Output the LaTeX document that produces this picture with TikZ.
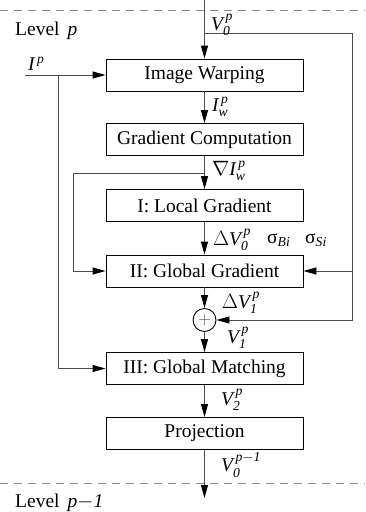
\documentclass[tikz,border=0pt]{standalone}
\usepackage{amsmath}
\usepackage{fontspec}
\setmainfont{Liberation Serif}
\usetikzlibrary{arrows.meta}
\newcommand{\ti}[1]{\textit{#1}}
\begin{document}
\begin{tikzpicture}[x=1pt,y=-1pt,
  txt/.style={font=\fontsize{19.5}{22}\selectfont},
  box/.style={txt,draw=black,line width=0.9pt,minimum width=197pt,minimum height=32pt,inner sep=0pt},
  lbl/.style={txt,anchor=west,inner sep=0pt},
  conn/.style={draw=black!70,line width=0.9pt},
  arr/.style={conn,-{Triangle[length=13pt,width=7pt,color=black]}},
  lev/.style={draw=black!45,line width=1pt,dash pattern=on 8pt off 6pt}]
\useasboundingbox (0,0) rectangle (365,512);
% level lines
\coordinate (dl1) at (0,10); \coordinate (dr1) at (365,10);
\coordinate (dl2) at (0,483); \coordinate (dr2) at (365,483);
\draw[lev] (dl1) -- (dr1);
\draw[lev] (dl2) -- (dr2);
\node[lbl] (lvp) at (15,31) {Level\, \ti{p}};
\node[lbl] (lvq) at (15,503) {Level\, \ti{p}$-$\ti{1}};
% boxes
\node[box] (iw) at (204.5,75) {Image Warping};
\node[box] (gc) at (204.5,139.5) {Gradient Computation};
\node[box] (lg) at (204.5,205.5) {I: Local Gradient};
\node[box] (gg) at (204.5,271) {II: Global Gradient};
\node[draw=black,line width=0.9pt,circle,minimum size=23pt,inner sep=0pt,font=\fontsize{16}{16}\selectfont,text=black!70] (pl) at (204.5,320) {$+$};
\node[box] (gm) at (204.5,368.5) {III: Global Matching};
\node[box] (pr) at (204.5,433.5) {Projection};
% coordinates
\coordinate (top) at (204.5,0);
\coordinate (rb) at (204.5,33.5);
\coordinate (rt) at (352,33.5);
\coordinate (rm) at (352,271);
\coordinate (rbot) at (352,320);
\coordinate (lb) at (204.5,173);
\coordinate (lt) at (73,173);
\coordinate (lm) at (73,271);
\coordinate (ip) at (25,75);
\coordinate (ib) at (58,75);
\coordinate (ibb) at (58,368.5);
\coordinate (end) at (204.5,498);
% connectors
\draw[arr] (top) -- (iw.north);
\draw[arr] (iw.south) -- (gc.north);
\draw[arr] (gc.south) -- (lg.north);
\draw[arr] (lg.south) -- (gg.north);
\draw[arr] (gg.south) -- (pl.north);
\draw[arr] (pl.south) -- (gm.north);
\draw[arr] (gm.south) -- (pr.north);
\draw[arr] (pr.south) -- (end);
\draw[arr] (rb) -- (rt) -- (rbot) -- (pl.east);
\draw[arr] (rm) -- (gg.east);
\draw[arr] (lb) -- (lt) -- (lm) -- (gg.west);
\draw[arr] (ip) -- (iw.west);
\draw[arr] (ib) -- (ibb) -- (gm.west);
% labels
\node[lbl] (lv0) at (211,25) {$\ti{V}_{\ti{0}}^{\,\ti{p}}$};
\node[lbl] (lip) at (28,64) {$\ti{I}^{\,\ti{p}}$};
\node[lbl] (liw) at (212,107) {$\ti{I}_{\ti{w}}^{\,\ti{p}}$};
\node[lbl] (lgi) at (212,171) {$\nabla\ti{I}_{\ti{w}}^{\,\ti{p}}$};
\node[lbl] (ldv0) at (213,240) {$\Delta\ti{V}_{\ti{0}}^{\,\ti{p}}$};
\node[lbl] (lsb) at (267,240) {σ$_{\ti{Bi}}$};
\node[lbl] (lss) at (305,240) {σ$_{\ti{Si}}$};
\node[lbl] (ldv1) at (222,303) {$\Delta\ti{V}_{\ti{1}}^{\,\ti{p}}$};
\node[lbl] (lv1) at (227,338) {$\ti{V}_{\ti{1}}^{\,\ti{p}}$};
\node[lbl] (lv2) at (221,400) {$\ti{V}_{\ti{2}}^{\,\ti{p}}$};
\node[lbl] (lv0q) at (221,465) {$\ti{V}_{\ti{0}}^{\,\ti{p}-\ti{1}}$};
\end{tikzpicture}
\end{document}
